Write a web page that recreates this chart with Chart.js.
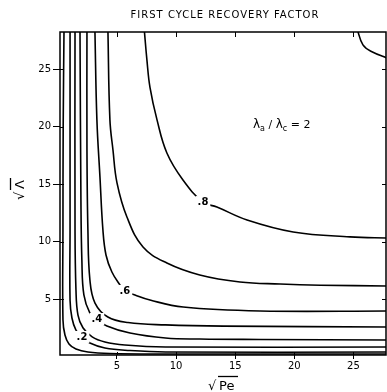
<!DOCTYPE html>
<html>
<head>
<meta charset="utf-8">
<script src="https://cdn.jsdelivr.net/npm/chart.js@4"></script>
<style>
  body { margin: 0; background: #fff; }
  #wrap { width: 387px; height: 392px; }
</style>
</head>
<body>
<div id="wrap"><canvas id="recoveryChart"></canvas></div>
<script>
// contour levels, each one a list of [sqrtPe, sqrtLambda] points
const levels = ['.1', '.2', '.3', '.4', '.5', '.6', '.7', '.8', '.9'];

const c1 = [[0.52, 28.5], [0.45, 20], [0.43, 11], [0.43, 3.2], [0.6, 1.87], [0.94, 1.09], [1.53, 0.65], [2.54, 0.39], [4.4, 0.26], [9.1, 0.22], [28, 0.22]];
const c2 = [[1.03, 28.5], [1.03, 11], [1.03, 4.9], [1.19, 3.35], [1.53, 2.3], [2.04, 1.7], [2.71, 1.17], [3.98, 0.74], [6.1, 0.52], [9.1, 0.39], [28, 0.39]];
const c3 = [[1.45, 28.5], [1.45, 11], [1.53, 5.8], [1.7, 3.6], [2.12, 2.5], [2.9, 1.7], [3.98, 1.26], [5.67, 1.0], [9.1, 0.83], [28, 0.83]];
const c4 = [[1.87, 28.5], [1.95, 13.6], [2.03, 8.4], [2.2, 5.35], [2.71, 3.78], [3.3, 3.26], [4.15, 2.65], [6.1, 2.04], [9.1, 1.61], [12, 1.52], [17.1, 1.48], [28, 1.43]];
const c5 = [[2.46, 28.5], [2.46, 18], [2.54, 11], [2.71, 6.65], [3.14, 4.65], [4.23, 3.43], [5.93, 2.95], [9.1, 2.75], [14, 2.64], [28, 2.57]];
const c6 = [[3.13, 28.5], [3.3, 20.6], [3.56, 15.6], [3.81, 11], [4.07, 8.83], [4.57, 7.35], [5.25, 6.22], [5.67, 5.7], [6.52, 5.35], [7.79, 4.91], [10.6, 4.3], [17.1, 3.96], [28, 3.96]];
const c7 = [[4.23, 28.5], [4.4, 20.6], [4.66, 17.96], [5.0, 15.1], [5.84, 12.13], [7.2, 9.52], [9.22, 8.13], [12, 7.09], [15.4, 6.48], [18.8, 6.3], [22.2, 6.2], [28, 6.13]];
const c8 = [[7.3, 28.5], [7.53, 25.8], [7.79, 23.4], [8.38, 20.6], [9.22, 17.7], [10.58, 15.35], [12.27, 13.43], [13.45, 13.0], [16.0, 11.87], [19.9, 10.83], [24.7, 10.4], [28, 10.3]];
const c9 = [[25.3, 28.5], [25.8, 27.1], [26.56, 26.5], [28, 25.9]];

const contours = [c1, c2, c3, c4, c5, c6, c7, c8, c9];

// where the level numbers sit on their curves
const labelLevels = ['.2', '.4', '.6', '.8'];
const labelX = [2.04, 3.3, 5.67, 12.27];
const labelY = [1.7, 3.26, 5.7, 13.43];

const xTicks = [5, 10, 15, 20, 25];
const yTicks = [5, 10, 15, 20, 25];

const titleText = 'FIRST CYCLE RECOVERY FACTOR';

const datasets = contours.map(function (pts, i) {
  return {
    label: levels[i],
    data: pts.map(function (p) { return { x: p[0], y: p[1] }; }),
    showLine: true,
    borderColor: '#000',
    borderWidth: 1.6,
    pointRadius: 0,
    tension: 0.4,
    fill: false
  };
});

const decorPlugin = {
  id: 'decor',
  afterDatasetsDraw(chart) {
    const ctx = chart.ctx;
    const a = chart.chartArea;
    const xs = chart.scales.x;
    const ys = chart.scales.y;
    ctx.save();

    // contour level labels, breaking the line
    ctx.font = 'bold 10px "DejaVu Sans"';
    ctx.textAlign = 'center';
    ctx.textBaseline = 'middle';
    labelLevels.forEach(function (t, i) {
      const px = xs.getPixelForValue(labelX[i]);
      const py = ys.getPixelForValue(labelY[i]);
      const w = ctx.measureText(t).width + 4;
      ctx.fillStyle = '#fff';
      ctx.fillRect(px - w / 2, py - 6, w, 12);
      ctx.fillStyle = '#000';
      ctx.fillText(t, px, py);
    });

    // frame
    ctx.strokeStyle = '#000';
    ctx.lineWidth = 1.5;
    ctx.strokeRect(a.left, a.top, a.right - a.left, a.bottom - a.top);

    // inward ticks on all sides
    ctx.lineWidth = 1;
    ctx.beginPath();
    xTicks.forEach(function (v) {
      const px = Math.round(xs.getPixelForValue(v)) + 0.5;
      ctx.moveTo(px, a.top); ctx.lineTo(px, a.top + 5);
      ctx.moveTo(px, a.bottom); ctx.lineTo(px, a.bottom - 3);
    });
    yTicks.forEach(function (v) {
      const py = Math.round(ys.getPixelForValue(v)) + 0.5;
      ctx.moveTo(a.left, py); ctx.lineTo(a.left + 4, py);
      ctx.moveTo(a.right, py); ctx.lineTo(a.right - 4, py);
    });
    ctx.stroke();

    // title
    ctx.fillStyle = '#000';
    ctx.font = '10px "DejaVu Sans"';
    ctx.letterSpacing = '1px';
    ctx.textAlign = 'center';
    ctx.textBaseline = 'middle';
    ctx.fillText(titleText, 225, 15);
    ctx.letterSpacing = '0px';

    // ratio annotation
    let x = 253;
    const by = 124;
    ctx.textAlign = 'left';
    ctx.textBaseline = 'alphabetic';
    const parts = [
      ['λ', '12px "DejaVu Sans"', 0],
      ['a', '8px "DejaVu Sans"', 3],
      [' / ', '11px "DejaVu Sans"', 0],
      ['λ', '12px "DejaVu Sans"', 0],
      ['c', '8px "DejaVu Sans"', 3],
      [' = 2', '11px "DejaVu Sans"', 0]
    ];
    parts.forEach(function (p) {
      ctx.font = p[1];
      ctx.fillText(p[0], x, by + 4 + p[2]);
      x += ctx.measureText(p[0]).width;
    });

    // x axis title: sqrt(Pe)
    ctx.font = '13px "DejaVu Sans"';
    ctx.textBaseline = 'alphabetic';
    ctx.fillText('√', 208, 390);
    ctx.fillText('Pe', 219, 390);
    ctx.lineWidth = 1.3;
    ctx.beginPath();
    ctx.moveTo(218, 376.5);
    ctx.lineTo(238, 376.5);
    ctx.stroke();

    // y axis title: sqrt(Lambda), reading upward
    ctx.save();
    ctx.translate(24, 200);
    ctx.rotate(-Math.PI / 2);
    ctx.fillText('√', 0, 0);
    ctx.fillText('Λ', 11, 0);
    ctx.beginPath();
    ctx.moveTo(10, -13.5);
    ctx.lineTo(22, -13.5);
    ctx.stroke();
    ctx.restore();

    ctx.restore();
  }
};

new Chart(document.getElementById('recoveryChart').getContext('2d'), {
  type: 'scatter',
  data: { datasets: datasets },
  options: {
    responsive: true,
    maintainAspectRatio: false,
    animation: false,
    layout: { padding: { left: 0, top: 32, right: 1, bottom: 0 } },
    plugins: {
      legend: { display: false },
      tooltip: { enabled: false }
    },
    scales: {
      x: {
        type: 'linear',
        min: 0.18,
        max: 27.75,
        afterFit: function (s) { s.height = 37; },
        afterBuildTicks: function (s) { s.ticks = xTicks.map(function (v) { return { value: v }; }); },
        grid: { drawOnChartArea: false, tickLength: 4, tickColor: '#000' },
        border: { display: false },
        ticks: { color: '#000', padding: 1, font: { family: 'DejaVu Sans', size: 10 } }
      },
      y: {
        type: 'linear',
        min: 0.13,
        max: 28.22,
        afterFit: function (s) { s.width = 60; },
        afterBuildTicks: function (s) { s.ticks = yTicks.map(function (v) { return { value: v }; }); },
        grid: { drawOnChartArea: false, tickLength: 7, tickColor: '#000' },
        border: { display: false },
        ticks: { color: '#000', padding: 2, font: { family: 'DejaVu Sans', size: 10 } }
      }
    }
  },
  plugins: [decorPlugin]
});
</script>
</body>
</html>
